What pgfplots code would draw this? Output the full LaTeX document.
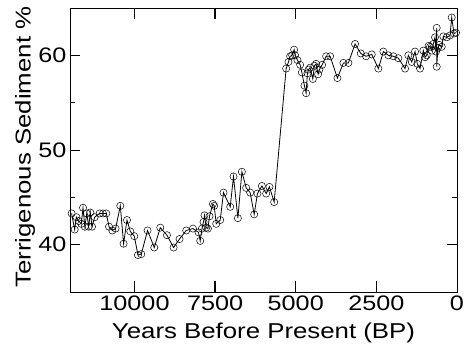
\documentclass[border=0pt]{standalone}
\usepackage{fontspec}
\setmainfont{Liberation Sans}[FakeStretch=1.2]
\usepackage{pgfplots}
\pgfplotsset{compat=1.18}
\begin{document}
\begin{tikzpicture}
\begin{axis}[
  scale only axis,
  width=387pt, height=284pt,
  xmin=0, xmax=12000, x dir=reverse,
  ymin=35, ymax=65,
  scaled ticks=false,
  xtick={0,2500,5000,7500,10000},
  ytick={40,50,60},
  minor ytick={45,55},
  tickwidth=10pt,
  subtickwidth=5pt,
  axis line style={line width=0.8pt},
  major tick style={draw=black, line width=0.7pt},
  minor tick style={draw=black, line width=0.7pt},
  /pgf/number format/assume math mode=true,
  /pgf/number format/1000 sep={},
  tick label style={font=\fontsize{21}{21}\selectfont},
  label style={font=\fontsize{21.5}{21.5}\selectfont},
  xlabel={Years Before Present (BP)},
  ylabel={Terrigenous Sediment \%},
  xlabel style={at={(axis description cs:0.5,-0.162)}, anchor=base},
  ylabel style={at={(axis description cs:-0.116,0.51)}, anchor=center},
  unbounded coords=jump,
]
% tick marks drawn inside the frame
\addplot[black, line width=1.4pt, no marks, forget plot] coordinates {
(2500,35) (2500,36.15) (2500,nan)
(5000,35) (5000,36.15) (5000,nan)
(7500,35) (7500,36.15) (7500,nan)
(10000,35) (10000,36.15) (10000,nan)
(2500,65) (2500,63.85) (2500,nan)
(5000,65) (5000,63.85) (5000,nan)
(7500,65) (7500,63.85) (7500,nan)
(10000,65) (10000,63.85)
};
\pgfplotsinvokeforeach{40,50,60}{
  \addplot[black, line width=0.9pt, no marks, forget plot] coordinates {(12000,#1) (11690,#1)};
  \addplot[black, line width=0.9pt, no marks, forget plot] coordinates {(0,#1) (310,#1)};
}
\pgfplotsinvokeforeach{45,55}{
  \addplot[black, line width=0.9pt, no marks, forget plot] coordinates {(12000,#1) (11845,#1)};
  \addplot[black, line width=0.9pt, no marks, forget plot] coordinates {(0,#1) (155,#1)};
}
\addplot[black, line width=0.8pt, mark=o, mark size=3.6pt,
  mark options={line width=0.5pt, solid}] coordinates {
(11950,43.3) (11856,41.6) (11800,42.9) (11730,42.5) (11650,42.2) (11596,43.9)
(11540,41.9) (11480,43.3) (11420,41.9) (11370,43.4) (11317,41.9) (11236,42.9)
(11082,43.3) (10976,43.3) (10874,43.3) (10790,41.9) (10688,41.5) (10586,41.7)
(10440,44.1) (10338,40.1) (10233,42.6) (10130,41.4) (10006,40.9) (9892,38.9)
(9790,39.0) (9595,41.5) (9387,39.7) (9201,41.8) (8994,41.0) (8789,39.7)
(8603,40.6) (8396,41.5) (8188,41.7) (8015,41.3) (7962,40.4) (7909,41.7)
(7860,42.4) (7829,43.1) (7776,41.8) (7723,41.7) (7674,43.0) (7568,44.3)
(7528,44.1) (7466,42.2) (7342,42.6) (7240,45.5) (7032,44.0) (6930,47.2)
(6794,42.8) (6670,47.7) (6537,46.0) (6413,45.5) (6289,43.2) (6187,45.4)
(6050,46.2) (5917,45.4) (5815,46.1) (5669,44.5)
(5298,58.6) (5226,59.3) (5173,59.9) (5111,60.0) (5050,60.6) (5019,60.0)
(4947,59.5) (4864,59.0) (4811,58.2) (4731,56.8) (4678,56.0) (4638,58.1)
(4600,58.5) (4554,58.7) (4470,57.5) (4421,58.9) (4368,59.1) (4306,58.0)
(4266,58.5) (4182,59.0) (4058,59.9) (3934,59.9) (3708,57.6) (3522,59.2)
(3367,59.2) (3160,61.2) (2983,60.2) (2819,59.9) (2643,60.1) (2438,58.6)
(2283,60.4) (2128,60.0) (1973,59.9) (1818,59.7) (1611,58.6) (1509,60.0)
(1403,59.3) (1301,60.4) (1230,59.1) (1146,58.6) (1044,60.5) (990,59.8)
(939,60.0) (880,61.0) (836,60.9) (780,60.5) (734,61.2) (682,61.9)
(650,60.4) (629,62.9) (629,58.8) (590,60.8) (548,61.1) (474,60.9)
(424,62.0) (319,61.9) (217,62.1) (164,64.0) (93,62.3) (30,62.4)
};
\end{axis}
\pgfresetboundingbox
\path[use as bounding box] ([shift={(-70pt,-51pt)}]current axis.south west) rectangle ([shift={(8pt,8pt)}]current axis.north east);
\end{tikzpicture}
\end{document}
